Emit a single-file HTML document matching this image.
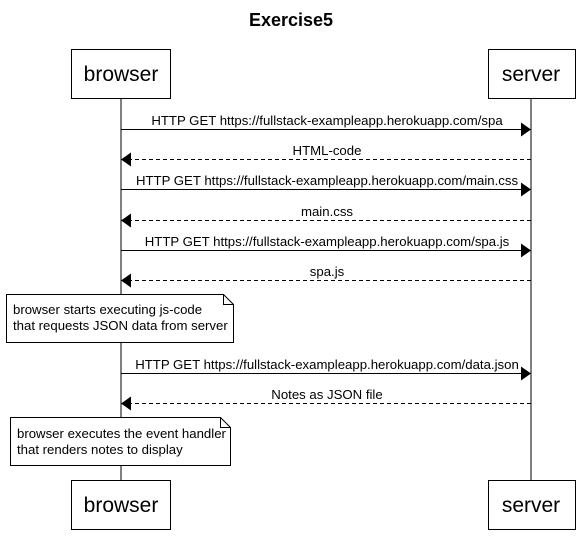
<!DOCTYPE html>
<html><head><style>body{margin:0;background:#fff}</style></head><body>
<svg width="582" height="533" xmlns="http://www.w3.org/2000/svg" font-family="Liberation Sans, sans-serif">
<rect width="582" height="533" fill="#fff"/>
<text x="291" y="26" font-size="18" font-weight="bold" text-anchor="middle">Exercise5</text>
<line x1="121" y1="98" x2="121" y2="480" stroke="#000"/>
<line x1="531" y1="98" x2="531" y2="480" stroke="#000"/>
<g fill="#fff" stroke="#000">
<rect x="71.5" y="49.5" width="99" height="49"/>
<rect x="488.5" y="49.5" width="87" height="49"/>
<rect x="71.5" y="480.5" width="99" height="49"/>
<rect x="488.5" y="480.5" width="87" height="49"/>
</g>
<g font-size="21" text-anchor="middle">
<text x="121" y="81">browser</text><text x="531" y="81">server</text>
<text x="121" y="512">browser</text><text x="531" y="512">server</text>
</g>
<defs>
<marker id="a" markerWidth="10" markerHeight="14" refX="10" refY="7" orient="auto" markerUnits="userSpaceOnUse"><path d="M0,0 L10,7 L0,14Z" fill="#000"/></marker>
</defs>
<g stroke="#000">
<line x1="121" y1="129.5" x2="531" y2="129.5" marker-end="url(#a)"/>
<line x1="531" y1="159.5" x2="121" y2="159.5" stroke-dasharray="4,3" marker-end="url(#a)"/>
<line x1="121" y1="189.5" x2="531" y2="189.5" marker-end="url(#a)"/>
<line x1="531" y1="220.5" x2="121" y2="220.5" stroke-dasharray="4,3" marker-end="url(#a)"/>
<line x1="121" y1="250.5" x2="531" y2="250.5" marker-end="url(#a)"/>
<line x1="531" y1="280.5" x2="121" y2="280.5" stroke-dasharray="4,3" marker-end="url(#a)"/>
<line x1="121" y1="373.5" x2="531" y2="373.5" marker-end="url(#a)"/>
<line x1="531" y1="403.5" x2="121" y2="403.5" stroke-dasharray="4,3" marker-end="url(#a)"/>
</g>
<g font-size="13.2" text-anchor="middle">
<text x="327" y="125">HTTP GET https://fullstack-exampleapp.herokuapp.com/spa</text>
<text x="327" y="155">HTML-code</text>
<text x="327" y="185">HTTP GET https://fullstack-exampleapp.herokuapp.com/main.css</text>
<text x="327" y="216">main.css</text>
<text x="327" y="246">HTTP GET https://fullstack-exampleapp.herokuapp.com/spa.js</text>
<text x="327" y="276">spa.js</text>
<text x="327" y="369">HTTP GET https://fullstack-exampleapp.herokuapp.com/data.json</text>
<text x="327" y="399">Notes as JSON file</text>
</g>
<g fill="#fff" stroke="#000">
<path d="M6.5,294.5 H223.5 L233.5,304.5 V342.5 H6.5Z"/><path d="M223.5,294.5 V304.5 H233.5" fill="none"/>
<path d="M10.5,417.5 H220.5 L230.5,427.5 V465.5 H10.5Z"/><path d="M220.5,417.5 V427.5 H230.5" fill="none"/>
</g>
<g font-size="13.2">
<text x="13" y="314">browser starts executing js-code</text>
<text x="13" y="330">that requests JSON data from server</text>
<text x="17" y="438">browser executes the event handler</text>
<text x="17" y="454">that renders notes to display</text>
</g>
</svg>
</body></html>
